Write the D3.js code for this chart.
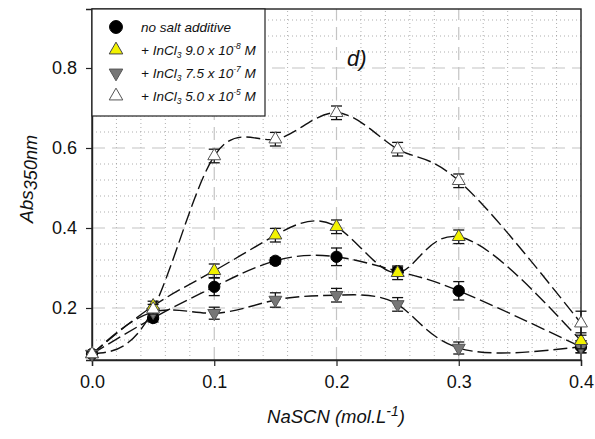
<!DOCTYPE html>
<html><head><meta charset="utf-8">
<script src="https://cdn.jsdelivr.net/npm/d3@7"></script>
<style>body{margin:0;background:#fff} text{font-family:"Liberation Sans",Arial,sans-serif}</style>
</head><body><svg width="595" height="439"></svg>
<script>
// NaSCN concentrations (mol/L)
var nascn = [0, 0.05, 0.1, 0.15, 0.2, 0.25, 0.3, 0.4]
// absorbance at 350 nm for each series, plus error bars
var noSalt = [0.085, 0.175, 0.253, 0.318, 0.328, 0.292, 0.243, 0.103]
var noSaltErr = [0.005, 0.010, 0.022, 0.008, 0.022, 0.010, 0.023, 0.015]
var incl9e8 = [0.085, 0.205, 0.293, 0.382, 0.403, 0.288, 0.378, 0.118]
var incl9e8Err = [0.005, 0.012, 0.017, 0.017, 0.017, 0.017, 0.017, 0.020]
var incl75e7 = [0.085, 0.190, 0.187, 0.220, 0.232, 0.209, 0.100, 0.103]
var incl75e7Err = [0.005, 0.010, 0.015, 0.018, 0.017, 0.017, 0.015, 0.015]
var incl5e5 = [0.085, 0.197, 0.580, 0.622, 0.688, 0.597, 0.518, 0.162]
var incl5e5Err = [0.005, 0.012, 0.017, 0.017, 0.017, 0.017, 0.017, 0.030]
var xTicks = [0, 0.1, 0.2, 0.3, 0.4]
var yTicks = [0.2, 0.4, 0.6, 0.8]

var svg = d3.select("svg")
var x = d3.scaleLinear().domain([0, 0.4]).range([92, 581])
var y = d3.scaleLinear().domain([0.07, 0.9475]).range([360, 9])

// minor grid (dotted)
var gMinor = svg.append("g").attr("stroke", "#9a9a9a").attr("stroke-width", 0.8).attr("stroke-dasharray", "1,3")
d3.range(1, 20).forEach(function(i) {
  if (i % 5 == 0) return
  var v = i * 0.02
  gMinor.append("line").attr("x1", x(v)).attr("x2", x(v)).attr("y1", y.range()[0]).attr("y2", y.range()[1])
})
d3.range(1, 22).forEach(function(i) {
  if ((i - 3) % 5 == 0) return
  var v = 0.08 + i * 0.04
  if (v > 0.94) return
  gMinor.append("line").attr("y1", y(v)).attr("y2", y(v)).attr("x1", x.range()[0]).attr("x2", x.range()[1])
})
// major grid (dashed)
var gMajor = svg.append("g").attr("stroke", "#c4c4c4").attr("stroke-width", 1.2).attr("stroke-dasharray", "13,7")
xTicks.slice(1, 4).forEach(function(v) {
  gMajor.append("line").attr("x1", x(v)).attr("x2", x(v)).attr("y1", y.range()[0]).attr("y2", y.range()[1])
})
yTicks.forEach(function(v) {
  gMajor.append("line").attr("y1", y(v)).attr("y2", y(v)).attr("x1", x.range()[0]).attr("x2", x.range()[1])
})

// frame
svg.append("rect").attr("x", 92).attr("y", 9).attr("width", 489).attr("height", 351)
  .attr("fill", "none").attr("stroke", "#222").attr("stroke-width", 1.4)

// axes
var xAxis = d3.axisBottom(x).tickValues(xTicks).tickFormat(d3.format(".1f")).tickSize(6).tickPadding(9)
var gx = svg.append("g").attr("transform", "translate(0,360)").call(xAxis)
var yAxis = d3.axisLeft(y).tickValues(yTicks).tickFormat(d3.format(".1f")).tickSize(6).tickPadding(9)
var gy = svg.append("g").attr("transform", "translate(92,0)").call(yAxis)
;[gx, gy].forEach(function(g) {
  g.select(".domain").attr("stroke", "#222").attr("stroke-width", 1.4)
  g.selectAll(".tick line").attr("stroke", "#222").attr("stroke-width", 1.2)
  g.selectAll("text").attr("font-size", 18).attr("fill", "#111").attr("font-family", "Liberation Sans, Arial, sans-serif")
})

// series
var series = [
  {vals: noSalt, err: noSaltErr, shape: d3.symbolCircle, fill: "#000", stroke: "#000", rot: 0, size: 100},
  {vals: incl75e7, err: incl75e7Err, shape: d3.symbolTriangle, fill: "#777", stroke: "#555", rot: 180, size: 72},
  {vals: incl9e8, err: incl9e8Err, shape: d3.symbolTriangle, fill: "#f2f200", stroke: "#444", rot: 0, size: 72},
  {vals: incl5e5, err: incl5e5Err, shape: d3.symbolTriangle, fill: "#fff", stroke: "#555", rot: 0, size: 72}
]

var line = d3.line().curve(d3.curveNatural)
  .x(function(d, i) { return x(nascn[i]) })
  .y(function(d) { return y(d) })

series.forEach(function(s) {
  svg.append("path").attr("d", line(s.vals)).attr("fill", "none")
    .attr("stroke", "#111").attr("stroke-width", 1.4).attr("stroke-dasharray", "14,5")
})

series.forEach(function(s) {
  var g = svg.append("g")
  s.vals.forEach(function(v, i) {
    var px = x(nascn[i])
    g.append("line").attr("x1", px).attr("x2", px).attr("y1", y(v - s.err[i])).attr("y2", y(v + s.err[i]))
      .attr("stroke", "#111").attr("stroke-width", 1.3)
    ;[v - s.err[i], v + s.err[i]].forEach(function(e) {
      g.append("line").attr("x1", px - 5.5).attr("x2", px + 5.5).attr("y1", y(e)).attr("y2", y(e))
        .attr("stroke", "#111").attr("stroke-width", 1.3)
    })
    g.append("path").attr("d", d3.symbol().type(s.shape).size(s.size)())
      .attr("transform", "translate(" + px + "," + y(v) + ") rotate(" + s.rot + ")")
      .attr("fill", s.fill).attr("stroke", s.stroke).attr("stroke-width", 1)
  })
})

// legend
var leg = svg.append("g")
leg.append("rect").attr("x", 92).attr("y", 9).attr("width", 173).attr("height", 107)
  .attr("fill", "#fff").attr("stroke", "#222").attr("stroke-width", 1.2)
var legendItems = [
  {s: series[0], label: null},
  {s: series[2], label: ["9.0", "-8"]},
  {s: series[1], label: ["7.5", "-7"]},
  {s: series[3], label: ["5.0", "-5"]}
]
legendItems.forEach(function(item, i) {
  var ly = 27 + i * 23
  var sz = item.s.shape == d3.symbolCircle ? 130 : 80
  leg.append("path").attr("d", d3.symbol().type(item.s.shape).size(sz)())
    .attr("transform", "translate(116," + ly + ") rotate(" + item.s.rot + ")")
    .attr("fill", item.s.fill).attr("stroke", item.s.stroke).attr("stroke-width", 1)
  var t = leg.append("text").attr("x", 141).attr("y", ly + 5).attr("font-size", 13.5)
    .attr("font-style", "italic").attr("fill", "#111")
  if (!item.label) { t.text("no salt additive"); return }
  t.append("tspan").text("+ InCl")
  t.append("tspan").attr("dy", 3).attr("font-size", 8.5).text("3")
  t.append("tspan").attr("dy", -3).text(" " + item.label[0] + " x 10")
  t.append("tspan").attr("dy", -6).attr("font-size", 8.5).text(item.label[1])
  t.append("tspan").attr("dy", 6).text(" M")
})

// panel label
svg.append("text").attr("x", 347).attr("y", 66).attr("font-size", 22).attr("font-style", "italic")
  .attr("fill", "#111").text("d)")

// axis titles
var yt = svg.append("text").attr("transform", "translate(33,179) rotate(-90)").attr("text-anchor", "middle")
  .attr("font-size", 19).attr("font-style", "italic").attr("fill", "#111")
yt.append("tspan").text("Abs")
yt.append("tspan").attr("dy", 4).attr("font-size", 18).text("350nm")

var xt = svg.append("text").attr("x", 336).attr("y", 423).attr("text-anchor", "middle")
  .attr("font-size", 18.5).attr("font-style", "italic").attr("fill", "#111")
xt.append("tspan").text("NaSCN (mol.L")
xt.append("tspan").attr("dy", -7).attr("font-size", 14).text("-1")
xt.append("tspan").attr("dy", 7).text(")")
</script>
</body></html>
